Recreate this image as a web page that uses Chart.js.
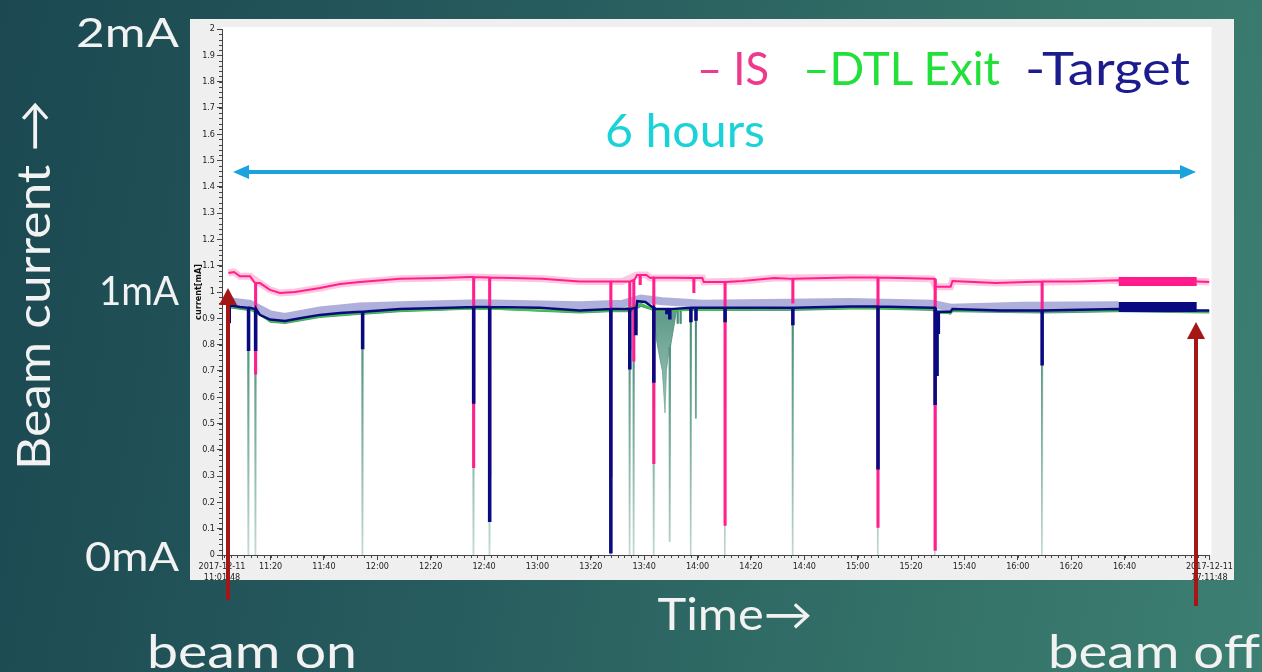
<!DOCTYPE html>
<html>
<head>
<meta charset="utf-8">
<script src="https://cdn.jsdelivr.net/npm/chart.js@4.4.1/dist/chart.umd.min.js"></script>
<style>
  html, body { margin: 0; padding: 0; }
  body {
    width: 1262px; height: 672px; overflow: hidden; position: relative;
    background: linear-gradient(100deg, #1b4851 0%, #275c5e 40%, #347268 75%, #3d7f72 100%);
  }
  #chartBox { position: absolute; left: 190px; top: 19px; width: 1044px; height: 561px; }
  #overlay { position: absolute; left: 0; top: 0; }
  #overlay text { font-family: Lato, "Open Sans", "DejaVu Sans", sans-serif; }
</style>
</head>
<body>
<div id="chartBox"><canvas id="beamChart" width="1044" height="561"></canvas></div>

<svg id="overlay" width="1262" height="672">
  <!-- texte de la diapo -->
  <g fill="#f2f2f2">
    <text x="179" y="47" text-anchor="end" font-size="40" textLength="103" lengthAdjust="spacingAndGlyphs">2mA</text>
    <text x="179" y="305" text-anchor="end" font-size="40" textLength="80" lengthAdjust="spacingAndGlyphs">1mA</text>
    <text x="179" y="571" text-anchor="end" font-size="40" textLength="94" lengthAdjust="spacingAndGlyphs">0mA</text>
    <text transform="translate(50,285) rotate(-90)" text-anchor="middle" font-size="46" textLength="370" lengthAdjust="spacingAndGlyphs">Beam current →</text>
    <text x="735" y="630" text-anchor="middle" font-size="44" textLength="155" lengthAdjust="spacingAndGlyphs">Time→</text>
    <text x="252" y="668" text-anchor="middle" font-size="46" textLength="210" lengthAdjust="spacingAndGlyphs">beam on</text>
    <text x="1154" y="668" text-anchor="middle" font-size="46" textLength="212" lengthAdjust="spacingAndGlyphs">beam off</text>
  </g>
  <!-- légende et durée -->
  <g font-size="46">
    <text x="697" y="85" fill="#ee3a8c" textLength="72" lengthAdjust="spacingAndGlyphs">– IS</text>
    <text x="803" y="85" fill="#22e03a" textLength="197" lengthAdjust="spacingAndGlyphs">–DTL Exit</text>
    <text x="1025" y="85" fill="#1c1c8e" textLength="165" lengthAdjust="spacingAndGlyphs">-Target</text>
    <text x="685" y="147" text-anchor="middle" fill="#1ad3d8" textLength="160" lengthAdjust="spacingAndGlyphs">6 hours</text>
  </g>
  <!-- flèche bleue 6 heures -->
  <line x1="246" y1="172" x2="1183" y2="172" stroke="#1ca3dd" stroke-width="4"/>
  <polygon points="233,172 249,165 249,179" fill="#1ca3dd"/>
  <polygon points="1196,172 1180,165 1180,179" fill="#1ca3dd"/>
  <!-- flèches rouges beam on / beam off -->
  <rect x="226" y="302" width="4" height="298" fill="#a51616"/>
  <polygon points="228,288 219,305 237,305" fill="#a51616"/>
  <rect x="1194" y="336" width="4" height="270" fill="#a51616"/>
  <polygon points="1196,322 1187,339 1205,339" fill="#a51616"/>
</svg>

<script>
// Temps en minutes depuis 2017-12-11 11:01:48, courant en mA
const timeTicks = [0, 18.2, 38.2, 58.2, 78.2, 98.2, 118.2, 138.2, 158.2, 178.2,
  198.2, 218.2, 238.2, 258.2, 278.2, 298.2, 318.2, 338.2, 370];
const timeLabels = [["2017-12-11", "11:01:48"], "11:20", "11:40", "12:00", "12:20",
  "12:40", "13:00", "13:20", "13:40", "14:00", "14:20", "14:40", "15:00", "15:20",
  "15:40", "16:00", "16:20", "16:40", ["2017-12-11", "17:11:48"]];
const minorStepX = 2.5;   // minutes
const minorStartX = 0.7;  // 11:02:30
const minorStepY = 0.02;

// IS (source d'ions)
const isLevel = [[2.4, 1.072], [4.5, 1.076], [6.7, 1.06], [10.5, 1.06], [14.2, 1.034],
  [18, 1.008], [21.7, 0.996], [27.4, 1.0], [36.7, 1.015], [44.2, 1.03], [51.7, 1.038],
  [66.7, 1.05], [82, 1.053], [93, 1.057], [100, 1.055], [120, 1.05], [134, 1.04],
  [150, 1.04], [155.5, 1.065], [159, 1.065], [160.5, 1.053], [180, 1.053], [180.5, 1.038],
  [195, 1.042], [207, 1.053], [235, 1.055], [266, 1.05], [267.5, 1.02], [273, 1.02],
  [273.7, 1.042], [290, 1.034], [320, 1.04], [336, 1.045], [365.2, 1.04], [370, 1.038]];
const isDips = [[12.4, 1.034, 0.69], [94.1, 1.057, 0.335], [100.1, 1.055, 0.3],
  [145.5, 1.04, 0.3], [152.6, 1.04, 0.78], [154.1, 1.045, 0.74], [156.5, 1.065, 1.03],
  [161.6, 1.055, 0.35], [176.6, 1.053, 1.0], [188.3, 1.038, 0.115], [213.7, 1.05, 0.96],
  [245.6, 1.055, 0.107], [267.0, 1.05, 0.02], [307.1, 1.04, 0.93]];
const isNoise = [[336, 1.04], [365.2, 1.04]];

// Target
const targetLevel = [[2.4, 0.95], [6.7, 0.943], [10.5, 0.94], [14.2, 0.913], [18, 0.895],
  [23.6, 0.89], [29.2, 0.9], [36.7, 0.913], [44.2, 0.92], [51.7, 0.925], [66.7, 0.935],
  [85.5, 0.94], [96.7, 0.943], [119, 0.94], [134, 0.93], [149, 0.935], [155.6, 0.965],
  [158.6, 0.962], [162.4, 0.935], [179, 0.94], [209, 0.94], [235.5, 0.945], [266, 0.94],
  [267.3, 0.925], [273, 0.925], [273.7, 0.935], [291.7, 0.93], [336, 0.935],
  [365.2, 0.93], [370, 0.93]];
const targetDips = [[2.5, 0.95, 0.886], [9.75, 0.94, 0.78], [12.4, 0.935, 0.78],
  [52.5, 0.925, 0.787], [94.1, 0.943, 0.58], [100.1, 0.943, 0.13], [145.5, 0.935, 0.01],
  [152.6, 0.935, 0.71], [154.9, 0.94, 0.84], [161.6, 0.94, 0.66], [166.5, 0.935, 0.92],
  [167.6, 0.935, 0.9], [175.5, 0.94, 0.89], [177.4, 0.94, 0.895], [188.3, 0.94, 0.89],
  [213.7, 0.94, 0.878], [245.6, 0.945, 0.33], [267.0, 0.94, 0.57], [267.6, 0.925, 0.685],
  [268.2, 0.925, 0.845], [307.1, 0.93, 0.725]];
const targetNoise = [[336, 0.943], [365.2, 0.943]];
const targetMax = [[2.4, 0.965], [10.5, 0.955], [18, 0.915], [23.6, 0.905], [36.7, 0.93],
  [51.7, 0.945], [66.7, 0.95], [96.7, 0.957], [134, 0.95], [150, 0.955], [157, 0.975],
  [165, 0.965], [180, 0.955], [235, 0.962], [266, 0.955], [273, 0.94], [300, 0.948],
  [336, 0.95]];

// DTL Exit
const dtlLevel = [[2.4, 0.945], [10.5, 0.935], [18, 0.89], [23.6, 0.885], [36.7, 0.908],
  [51.7, 0.92], [66.7, 0.93], [96.7, 0.938], [134, 0.925], [149, 0.93], [157, 0.955],
  [162.4, 0.93], [235.5, 0.94], [266, 0.935], [267.3, 0.92], [273, 0.92], [273.7, 0.93],
  [336, 0.93], [370, 0.925]];
const dtlMinLevel = [[2.4, 0.94], [10.5, 0.93], [18, 0.885], [23.6, 0.88], [36.7, 0.903],
  [51.7, 0.915], [66.7, 0.925], [96.7, 0.933], [134, 0.92], [149, 0.925], [157, 0.945],
  [162.2, 0.925], [162.6, 0.83], [164, 0.75], [165, 0.7], [166, 0.54], [166.5, 0.7],
  [168, 0.8], [169.5, 0.88], [170.2, 0.925], [235.5, 0.935], [266, 0.93], [267.3, 0.915],
  [273, 0.915], [273.7, 0.925], [336, 0.925], [370, 0.92]];
const dtlDips = [[9.75, 0.93, 0], [12.4, 0.925, 0], [52.5, 0.915, 0], [94.1, 0.935, 0],
  [100.1, 0.935, 0], [145.5, 0.925, 0], [152.6, 0.925, 0], [154.1, 0.93, 0],
  [161.6, 0.93, 0], [167.6, 0.79, 0.05], [170.6, 0.93, 0.88], [171.7, 0.93, 0.88],
  [175.5, 0.93, 0], [177.4, 0.93, 0.52], [188.3, 0.93, 0], [213.7, 0.93, 0],
  [245.6, 0.935, 0], [267.0, 0.93, 0], [307.1, 0.92, 0]];

const dipWidth = 0.4; // une période d'échantillonnage

function toPoints(level) {
  return level.map(([x, y]) => ({ x, y }));
}

// ajoute les chutes verticales (t, niveau, minimum) à la courbe
function withDips(level, dips) {
  const pts = toPoints(level);
  dips.forEach(([t, base, low]) => {
    pts.push({ x: t, y: base }, { x: t, y: low },
      { x: t + dipWidth, y: low }, { x: t + dipWidth, y: base });
  });
  return pts.sort((a, b) => a.x - b.x);
}

function tealFade(context) {
  const chart = context.chart;
  if (!chart.chartArea) return "rgba(80,145,125,0.8)";
  const y = chart.scales.y;
  const g = chart.ctx.createLinearGradient(0, y.getPixelForValue(0.9), 0, y.getPixelForValue(0));
  g.addColorStop(0, "rgba(70,140,118,0.85)");
  g.addColorStop(1, "rgba(150,190,180,0.25)");
  return g;
}

// fond gris et zone blanche du tracé
const panelBackground = {
  id: "panelBackground",
  beforeDraw(chart) {
    const { ctx, chartArea: a, width, height } = chart;
    ctx.save();
    ctx.fillStyle = "#efefef";
    ctx.fillRect(0, 0, width, height);
    ctx.fillStyle = "#ffffff";
    ctx.fillRect(a.left, a.top - 2, a.right - a.left + 2, a.bottom - a.top + 2);
    ctx.restore();
  },
};

// petites graduations
const minorTicks = {
  id: "minorTicks",
  afterDraw(chart) {
    const { ctx, chartArea: a, scales } = chart;
    ctx.save();
    ctx.strokeStyle = "#444";
    ctx.lineWidth = 1;
    ctx.beginPath();
    for (let t = minorStartX; t <= 370; t += minorStepX) {
      const px = Math.round(scales.x.getPixelForValue(t)) + 0.5;
      ctx.moveTo(px, a.bottom);
      ctx.lineTo(px, a.bottom + 3);
    }
    for (let v = 0; v <= 2.0001; v += minorStepY) {
      const py = Math.round(scales.y.getPixelForValue(v)) + 0.5;
      ctx.moveTo(a.left - 3, py);
      ctx.lineTo(a.left, py);
    }
    ctx.stroke();
    ctx.restore();
  },
};

const tickFont = { family: "'Liberation Sans Narrow', 'DejaVu Sans Condensed', sans-serif", size: 9 };

const lineBase = { pointRadius: 0, tension: 0, fill: false, borderJoinStyle: "miter" };

new Chart(document.getElementById("beamChart").getContext("2d"), {
  type: "line",
  data: {
    datasets: [
      { ...lineBase, label: "Target", data: withDips(targetLevel, targetDips),
        borderColor: "#0a0a80", borderWidth: 2.5, order: 1 },
      { ...lineBase, label: "Target (bruit)", data: toPoints(targetNoise),
        borderColor: "#0a0a80", borderWidth: 10, borderCapStyle: "butt", order: 0 },
      { ...lineBase, label: "IS", data: withDips(isLevel, isDips),
        borderColor: "#ff1f8e", borderWidth: 2, order: 2 },
      { ...lineBase, label: "IS (bruit)", data: toPoints(isNoise),
        borderColor: "#ff1a8a", borderWidth: 9, borderCapStyle: "butt", order: 2 },
      { ...lineBase, label: "DTL Exit", data: toPoints(dtlLevel),
        borderColor: "#3cc83c", borderWidth: 2, order: 3 },
      { ...lineBase, label: "DTL Exit min", data: withDips(dtlMinLevel, dtlDips),
        borderColor: tealFade, backgroundColor: tealFade, borderWidth: 1,
        fill: { target: 4 }, order: 4 },
      { ...lineBase, label: "Target max", data: toPoints(targetMax),
        borderColor: "rgba(110,110,190,0.55)", borderWidth: 8, order: 5 },
      { ...lineBase, label: "IS max", data: toPoints(isLevel),
        borderColor: "rgba(255,120,175,0.42)", borderWidth: 7, order: 6 },
    ],
  },
  options: {
    responsive: false,
    devicePixelRatio: 1,
    animation: false,
    layout: { padding: { top: 10, right: 24, left: 0, bottom: 0 } },
    plugins: { legend: { display: false }, tooltip: { enabled: false } },
    scales: {
      x: {
        type: "linear", min: 0, max: 370,
        afterBuildTicks: (scale) => { scale.ticks = timeTicks.map((v) => ({ value: v })); },
        afterFit: (scale) => { scale.height = 25; },
        ticks: { autoSkip: false, maxRotation: 0, font: tickFont, color: "#222", padding: 1,
          callback: (v, i) => timeLabels[i] },
        grid: { drawOnChartArea: false, tickLength: 5, color: "#444" },
        border: { color: "#444" },
      },
      y: {
        min: 0, max: 2,
        afterFit: (scale) => { scale.width = 32; },
        ticks: { stepSize: 0.1, autoSkip: false, font: tickFont, color: "#222", padding: 2,
          callback: (v) => String(Math.round(v * 10) / 10) },
        grid: { drawOnChartArea: false, tickLength: 5, color: "#444" },
        border: { color: "#444" },
        title: { display: true, text: "current[mA]", color: "#111", padding: { top: 3, bottom: 0 },
          font: { family: "'DejaVu Sans Condensed', sans-serif", size: 9, weight: "bold" } },
      },
    },
  },
  plugins: [panelBackground, minorTicks],
});
</script>
</body>
</html>
